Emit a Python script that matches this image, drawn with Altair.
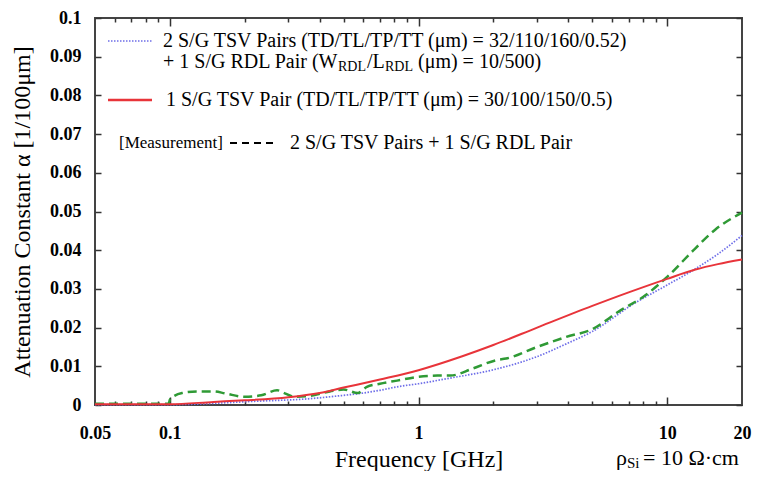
import altair as alt
import pandas as pd

# ---------------- data ----------------
red_freq = [0.05, 0.1, 0.15, 0.2, 0.3, 0.4, 0.5, 0.7, 1.0, 1.5, 2.0, 3.0, 5.0, 7.0, 10.0, 13.0, 16.0, 20.0]
red_alpha = [0.0002, 0.0002, 0.0008, 0.0012, 0.0020, 0.0031, 0.0045, 0.0066, 0.0090, 0.0126, 0.0155, 0.0200, 0.0256, 0.0291, 0.0326, 0.0350, 0.0364, 0.0376]

blue_freq = [0.05, 0.1, 0.226, 0.36, 0.5, 0.57, 0.7, 0.82, 1.0, 1.3, 2.06, 2.97, 3.93, 5.0, 7.4, 10.0, 13.0, 16.0, 20.0]
blue_alpha = [0.0001, 0.0001, 0.0010, 0.0016, 0.0025, 0.0029, 0.0038, 0.0047, 0.0055, 0.0068, 0.0093, 0.0124, 0.0158, 0.0190, 0.0263, 0.0310, 0.0352, 0.0390, 0.0438]

green_freq = [0.05, 0.099, 0.1, 0.112, 0.13, 0.15, 0.167, 0.2, 0.233, 0.27, 0.29, 0.317, 0.36, 0.44, 0.5, 0.57, 0.62, 0.7, 0.82,
              1.0, 1.19, 1.34, 1.65, 2.06, 2.25, 2.97, 3.93, 5.0, 6.4, 8.2, 10.0, 12.9, 15.6, 20.0]
green_alpha = [0.0003, 0.0003, 0.0014, 0.0031, 0.0035, 0.0035, 0.0030, 0.0021, 0.0025, 0.0038, 0.0030, 0.0021, 0.0023, 0.0035, 0.0040, 0.0031, 0.0047, 0.0055, 0.0063,
               0.0073, 0.0076, 0.0076, 0.0094, 0.0116, 0.0120, 0.0149, 0.0176, 0.0196, 0.0242, 0.0284, 0.0331, 0.0403, 0.0453, 0.0497]

x_label_values = [0.05, 0.1, 1, 10, 20]
x_minor_ticks = [0.06, 0.07, 0.08, 0.09, 0.2, 0.3, 0.4, 0.5, 0.6, 0.7, 0.8, 0.9, 2, 3, 4, 5, 6, 7, 8, 9]
x_major_ticks = [0.1, 1, 10]
y_tick_values = [0, 0.01, 0.02, 0.03, 0.04, 0.05, 0.06, 0.07, 0.08, 0.09, 0.1]

legend_blue_1 = "2 S/G TSV Pairs (TD/TL/TP/TT (μm) = 32/110/160/0.52)"
legend_blue_2a = "+ 1 S/G RDL Pair (W"
legend_sub = "RDL"
legend_blue_2b = "/L"
legend_blue_2c = " (μm) = 10/500)"
legend_red = "1 S/G TSV Pair (TD/TL/TP/TT (μm) = 30/100/150/0.5)"
legend_meas_a = "[Measurement]"
legend_meas_b = "2 S/G TSV Pairs + 1 S/G RDL Pair"
rho_a, rho_sub, rho_b = "ρ", "Si", " = 10 Ω·cm"

# ---------------- chart ----------------
W, H = 647, 387
FONT = "Liberation Serif"
RED, BLUE, GREEN = "#e8343a", "#6e6ee8", "#2f9a35"

xs = alt.Scale(type="log", domain=[0.05, 20], nice=False)
ys = alt.Scale(domain=[0, 0.1], nice=False, zero=False)

red_df = pd.DataFrame({"f": red_freq, "a": red_alpha})
blue_df = pd.DataFrame({"f": blue_freq, "a": blue_alpha})
green_df = pd.DataFrame({"f": green_freq, "a": green_alpha})

x_main_axis = alt.Axis(values=x_label_values, format="~g", ticks=False, tickSize=0, domain=False, grid=False,
                       labelPadding=19, labelFontSize=18, labelFont=FONT, labelFontWeight="bold",
                       labelColor="black", labelFlush=False,
                       title="Frequency [GHz]", titleFont=FONT, titleFontSize=24, titleFontWeight="normal",
                       titleColor="black", titleY=61, titleBaseline="alphabetic")
y_main_axis = alt.Axis(values=y_tick_values, format="~g", ticks=False, tickSize=0, domain=False, grid=False,
                       labelPadding=14, labelFontSize=18, labelFont=FONT, labelFontWeight="bold",
                       labelColor="black", labelFlush=False,
                       title="Attenuation Constant α [1/100μm]", titleFont=FONT, titleFontSize=24,
                       titleFontWeight="normal", titleColor="black", titleX=-66, titleAngle=270,
                       titleBaseline="alphabetic")

red_line = alt.Chart(red_df).mark_line(color=RED, strokeWidth=2, interpolate="monotone").encode(
    x=alt.X("f:Q", scale=xs, axis=x_main_axis),
    y=alt.Y("a:Q", scale=ys, axis=y_main_axis),
)
blue_line = alt.Chart(blue_df).mark_line(color=BLUE, strokeWidth=1.7, strokeDash=[1.5, 1.5],
                                         interpolate="monotone").encode(
    x=alt.X("f:Q", scale=xs, axis=None),
    y=alt.Y("a:Q", scale=ys, axis=None),
)
green_line = alt.Chart(green_df).mark_line(color=GREEN, strokeWidth=2.5, strokeDash=[9, 5],
                                           interpolate="monotone").encode(
    x=alt.X("f:Q", scale=xs, axis=None),
    y=alt.Y("a:Q", scale=ys, axis=None),
)


def tick_axis(orient, vals, size):
    return alt.Axis(orient=orient, offset=-(H if orient in ("top", "bottom") else W), values=vals,
                    tickSize=size, tickWidth=1.5, tickColor="#333", labels=False, domain=False,
                    grid=False, title=None)


def tick_layer(xorient, xvals, xsize, yorient=None):
    yaxis = tick_axis(yorient, y_tick_values, 6) if yorient else None
    return alt.Chart(red_df).mark_line(opacity=0).encode(
        x=alt.X("f:Q", scale=xs, axis=tick_axis(xorient, xvals, xsize)),
        y=alt.Y("a:Q", scale=ys, axis=yaxis),
    )


ticks = [
    tick_layer("top", x_minor_ticks, 4, "right"),
    tick_layer("top", x_major_ticks, 8),
    tick_layer("bottom", x_minor_ticks, 4, "left"),
    tick_layer("bottom", x_major_ticks, 8),
]


def txt(s, x, y, size=20):
    return alt.Chart(alt.Data(values=[{}])).mark_text(
        text=s, font=FONT, fontSize=size, align="left", baseline="middle", color="black"
    ).encode(x=alt.value(x), y=alt.value(y))


def swatch(x1, x2, y, color, width, dash=None):
    kw = dict(color=color, strokeWidth=width)
    if dash:
        kw["strokeDash"] = dash
    return alt.Chart(alt.Data(values=[{}])).mark_rule(**kw).encode(
        x=alt.value(x1), x2=alt.value(x2), y=alt.value(y))


annotations = [
    swatch(13, 57, 23, BLUE, 1.7, [1.5, 1.5]),
    txt(legend_blue_1, 68, 23),
    txt(legend_blue_2a, 68, 44),
    txt(legend_sub, 243, 49, 14),
    txt(legend_blue_2b, 272, 44),
    txt(legend_sub, 290, 49, 14),
    txt(legend_blue_2c, 323, 44),
    swatch(13, 57, 82, RED, 2.5),
    txt(legend_red, 71, 82),
    txt(legend_meas_a, 24, 125, 17),
    swatch(135, 179, 125, "black", 1.8, [7, 5]),
    txt(legend_meas_b, 195, 125),
    txt(rho_a, 521, 440, 22),
    txt(rho_sub, 532, 445, 15),
    txt(rho_b, 548, 440, 22),
]

chart = alt.layer(*ticks, blue_line, green_line, red_line, *annotations).resolve_axis(
    x="independent", y="independent"
).properties(
    width=W, height=H,
    padding={"left": 87, "top": 10, "right": 10, "bottom": 66},
    autosize=alt.AutoSizeParams(type="none"),
).configure_view(stroke="#444", strokeWidth=2)

chart.save("out.html", embed_options={"renderer": "svg", "actions": False})
